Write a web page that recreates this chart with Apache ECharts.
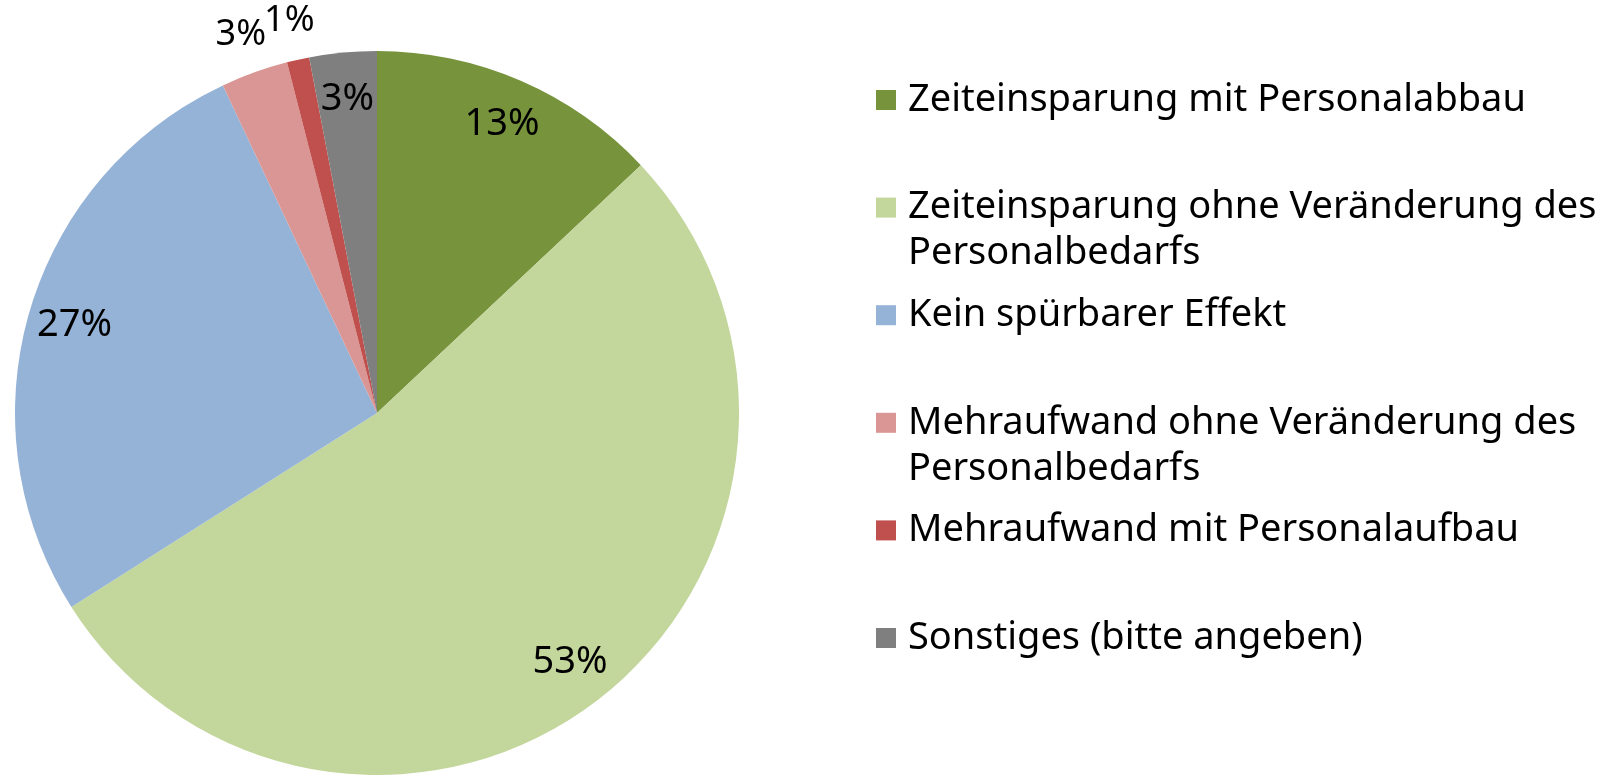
<!DOCTYPE html>
<html>
<head>
<meta charset="utf-8">
<style>
  html, body { margin: 0; padding: 0; background: #ffffff; }
  #chart { width: 1604px; height: 777px; }
</style>
<script src="https://cdn.jsdelivr.net/npm/echarts@6/dist/echarts.min.js"></script>
</head>
<body>
<div id="chart"></div>
<script>
// Answer categories and their shares (percent)
const categories = [
  'Zeiteinsparung mit Personalabbau',
  'Zeiteinsparung ohne Veränderung des Personalbedarfs',
  'Kein spürbarer Effekt',
  'Mehraufwand ohne Veränderung des Personalbedarfs',
  'Mehraufwand mit Personalaufbau',
  'Sonstiges (bitte angeben)'
];
const values = [13, 53, 27, 3, 1, 3];

// Slice colours
const palette = ['#77933C', '#C3D69B', '#95B3D7', '#D99694', '#C0504D', '#7F7F7F'];
// Where each percentage label sits: inside the slice or just outside the rim
const labelSide = ['inside', 'inside', 'inside', 'outside', 'outside', 'inside'];

const FONT = '"Noto Sans", "Liberation Sans", sans-serif';
const CX = 377, CY = 413, R = 362;

const chart = echarts.init(document.getElementById('chart'), null, { renderer: 'canvas' });

const baseData = categories.map((name, i) => ({ name, value: values[i] }));

// Transparent ring whose slice centres carry the percentage labels of the chosen slices
function labelSeries(showFor, radius, fontSize) {
  return {
    type: 'pie',
    silent: true,
    center: [CX, CY],
    radius: radius,
    startAngle: 90,
    clockwise: true,
    avoidLabelOverlap: false,
    labelLayout: { hideOverlap: false },
    itemStyle: { color: 'transparent', borderWidth: 0 },
    labelLine: { show: false },
    emphasis: { disabled: true },
    data: baseData.map((d, i) => ({
      name: d.name,
      value: d.value,
      label: {
        show: showFor(i),
        position: 'inside',
        formatter: '{c}%',
        color: '#000000',
        fontFamily: FONT,
        fontSize: fontSize
      }
    }))
  };
}

// One legend block per entry so each row sits at its own height.
// Wrapped entries get an empty leading line so the swatch lines up with the first line.
const LEGEND_X = 876, ROW0 = 100, ROW_STEP = 107.6, LINE_H = 46;
const legends = categories.map((name, i) => {
  const wrapped = name.indexOf(' des Personalbedarfs') >= 0;
  const iconCenter = ROW0 + i * ROW_STEP;
  return {
    orient: 'vertical',
    left: LEGEND_X,
    top: iconCenter - (wrapped ? LINE_H * 1.5 : LINE_H / 2),
    padding: 0,
    itemWidth: 20,
    itemHeight: 20,
    icon: 'rect',
    selectedMode: false,
    data: [name],
    formatter: n => wrapped
      ? '\n' + n.replace(' des Personalbedarfs', ' des\nPersonalbedarfs')
      : n,
    textStyle: {
      fontFamily: FONT,
      fontSize: 38,
      lineHeight: LINE_H,
      color: '#000000',
      padding: [0, 0, 0, 7]
    }
  };
});

// Each outside label gets its own ring so neighbouring labels are never suppressed
const outsideLabels = labelSide
  .map((s, i) => (s === 'outside' ? i : -1))
  .filter(i => i >= 0)
  .map(idx => labelSeries(i => i === idx, [R, 436], 36));

chart.setOption({
  animation: false,
  backgroundColor: '#ffffff',
  legend: legends,
  series: [
    {
      type: 'pie',
      center: [CX, CY],
      radius: R,
      startAngle: 90,
      clockwise: true,
      label: { show: false },
      labelLine: { show: false },
      emphasis: { disabled: true },
      itemStyle: { borderWidth: 0 },
      data: baseData.map((d, i) => ({ ...d, itemStyle: { color: palette[i] } }))
    },
    labelSeries(i => labelSide[i] === 'inside', [262, R], 38)
  ].concat(outsideLabels)
});
</script>
</body>
</html>
